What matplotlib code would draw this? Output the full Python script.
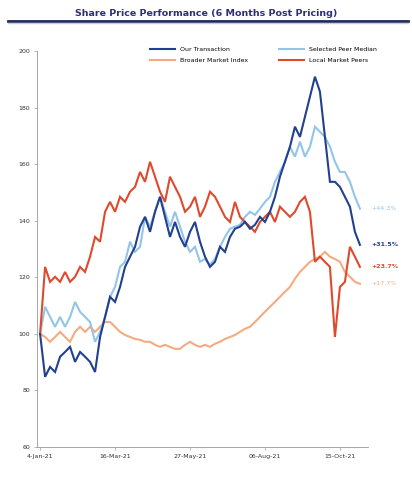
import matplotlib
matplotlib.use("Agg")
import matplotlib.pyplot as plt
from matplotlib.lines import Line2D

title = "Share Price Performance (6 Months Post Pricing)"
series_names = ["Our Transaction", "Selected Peer Median", "Broader Market Index", "Local Market Peers"]
x_tick_labels = ["4-Jan-21", "16-Mar-21", "27-May-21", "06-Aug-21", "15-Oct-21"]
x_tick_pos = [0, 15, 30, 45, 60]
y_ticks = [60, 80, 100, 120, 140, 160, 180, 200]

transaction = [100, 84.8, 88.3, 86.5, 91.9, 93.6, 95.4, 90.1, 93.6, 91.9, 90.1, 86.5, 98.9, 106.0, 113.1, 111.3,
               116.6, 123.7, 127.3, 130.8, 137.9, 141.4, 136.1, 143.2, 148.5, 141.4, 134.3, 139.6, 134.3, 130.8,
               136.1, 139.6, 132.6, 127.3, 123.7, 125.5, 130.8, 129.0, 134.3, 137.2, 137.9, 139.6, 137.2, 138.6,
               141.4, 139.6, 143.2, 148.5, 155.6, 160.9, 166.2, 173.3, 169.7, 176.8, 183.9, 191.0, 185.7, 169.7,
               153.8, 153.8, 152.0, 148.5, 145.0, 136.1, 131.5]
peer_median = [100, 109.6, 106.0, 102.5, 106.0, 102.5, 106.0, 111.3, 107.8, 106.0, 104.2, 97.2, 100.7, 106.0, 113.1,
               116.6, 123.7, 125.5, 132.6, 129.0, 130.8, 141.4, 137.9, 143.2, 148.5, 143.2, 137.9, 143.2, 137.9,
               132.6, 129.0, 130.8, 125.5, 126.5, 124.4, 126.5, 130.8, 134.3, 137.2, 137.9, 138.6, 141.4, 143.2,
               142.1, 144.3, 146.7, 148.5, 153.8, 157.3, 160.9, 166.2, 162.7, 168.0, 162.7, 166.2, 173.3, 171.5,
               169.7, 166.2, 160.9, 157.3, 157.3, 153.8, 148.5, 144.3]
market_index = [100, 98.9, 97.2, 98.9, 100.7, 98.9, 97.2, 100.7, 102.5, 100.7, 102.5, 100.7, 102.5, 104.2, 104.2,
                102.5, 100.7, 99.6, 98.9, 98.2, 97.9, 97.2, 97.2, 96.1, 95.4, 96.1, 95.4, 94.7, 94.7, 96.1, 97.2,
                96.1, 95.4, 96.1, 95.4, 96.5, 97.2, 98.2, 98.9, 99.6, 100.7, 101.8, 102.5, 104.2, 106.0, 107.8,
                109.6, 111.3, 113.1, 114.9, 116.6, 119.5, 121.9, 123.7, 125.5, 126.5, 127.3, 129.0, 127.3, 126.5,
                125.5, 121.9, 120.2, 118.4, 117.7]
local_peers = [100, 123.7, 118.4, 120.2, 118.4, 121.9, 118.4, 120.2, 123.7, 121.9, 127.3, 134.3, 132.6, 143.2,
               146.7, 143.2, 148.5, 146.7, 150.3, 152.0, 157.3, 153.8, 160.9, 155.6, 150.3, 146.7, 155.6, 152.0,
               148.5, 143.2, 145.0, 148.5, 141.4, 145.0, 150.3, 148.5, 145.0, 141.4, 139.6, 146.7, 141.4, 139.6,
               137.9, 136.1, 139.6, 141.4, 143.2, 139.6, 145.0, 143.2, 141.4, 143.2, 146.7, 148.5, 143.2, 125.5,
               127.3, 125.5, 123.7, 98.9, 116.6, 118.4, 130.8, 127.3, 123.7]

colors = ["#22408f", "#93c5e8", "#f5ab80", "#df4a2c"]
all_series = [transaction, peer_median, market_index, local_peers]

fig = plt.figure(figsize=(4.12, 4.79), dpi=100)
ax = fig.add_axes([0.09, 0.067, 0.803, 0.826])

order = [2, 1, 3, 0]
for i in order:
    s = all_series[i]
    ax.plot(range(len(s)), s, color=colors[i], lw=1.5, solid_joinstyle="miter")

ax.set_ylim(60, 200)
ax.set_xlim(-0.6, 65.6)
ax.set_yticks(y_ticks)
ax.set_yticklabels([str(v) for v in y_ticks], fontsize=4.5, color="#333333")
ax.set_xticks(x_tick_pos)
ax.set_xticklabels(x_tick_labels, fontsize=4.5, color="#333333")
ax.tick_params(axis="both", length=2, width=0.5, color="#999999", pad=3)
for sp in ["top", "right"]:
    ax.spines[sp].set_visible(False)
for sp in ["left", "bottom"]:
    ax.spines[sp].set_color("#999999")
    ax.spines[sp].set_linewidth(0.6)

label_x = 66.2
for i in range(4):
    s = all_series[i]
    val = s[-1] - 100
    ax.text(label_x, s[-1], f"{val:+.1f}%", fontsize=4.5, color=colors[i],
            ha="left", va="center", clip_on=False, fontweight="bold" if i in (0, 3) else "normal")

handles = [Line2D([0], [0], color=colors[i], lw=1.5) for i in range(4)]
fig.legend([handles[0], handles[2], handles[1], handles[3]],
           [series_names[0], series_names[2], series_names[1], series_names[3]],
           ncol=2, loc="upper left", bbox_to_anchor=(0.35, 0.915), fontsize=4.5,
           frameon=False, handlelength=4, columnspacing=5, handletextpad=0.8, labelspacing=0.9)

fig.text(0.5, 0.972, title, ha="center", va="center", fontsize=6.8, fontweight="bold", color="#2d2f7d")
fig.add_artist(Line2D([0.02, 0.99], [0.957, 0.957], color="#1f2a5c", lw=2.0, transform=fig.transFigure))
fig.add_artist(Line2D([0.02, 0.99], [0.951, 0.951], color="#c8ccd6", lw=1.0, transform=fig.transFigure))

fig.savefig("out.png", dpi=100)
